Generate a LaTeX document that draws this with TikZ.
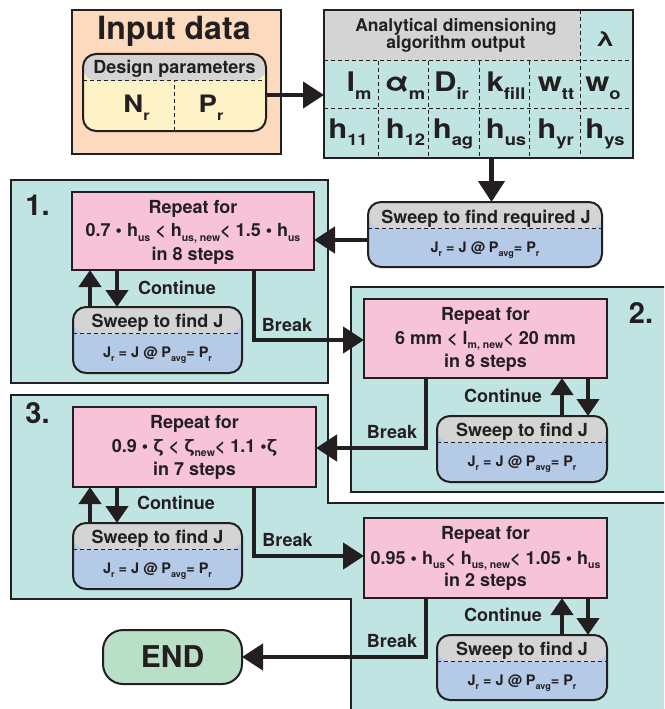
\documentclass[tikz,border=0pt]{standalone}
\usepackage{fontspec}
\setmainfont{texgyreheros-regular.otf}[BoldFont=texgyreheros-bold.otf]
\newfontfamily\widefont{texgyreheros-bold.otf}[FakeStretch=1.15]
\newfontfamily\halfwide{texgyreheros-bold.otf}[FakeStretch=1.15]
\usetikzlibrary{arrows.meta}
\definecolor{ink}{HTML}{231F20}
\definecolor{panelc}{HTML}{C0E4E2}
\definecolor{pinkc}{HTML}{F6C3D9}
\definecolor{hdrc}{HTML}{D4D4D4}
\definecolor{bluec}{HTML}{B4CAE6}
\definecolor{peachc}{HTML}{FBDABD}
\definecolor{yellowc}{HTML}{FDF2C6}
\definecolor{greenc}{HTML}{B9DFC7}
\newcommand\myfs[1]{\fontsize{#1}{#1}\selectfont}
\newcommand\rsub[1]{\raisebox{-4.5pt}{\myfs{10.5}#1}}
\newcommand\fsub[1]{\raisebox{-4.5pt}{\myfs{9}#1}}
\newcommand\tsub[1]{\raisebox{-7pt}{\myfs{16}#1}}
\newcommand\nsub[1]{\raisebox{-8pt}{\myfs{14}#1}}
\newcommand\Jform{J\fsub{r} = J @ P\fsub{avg}= P\fsub{r}}
\tikzset{
  every node/.style={inner sep=0pt, outer sep=0pt, text=ink},
  panel/.style={draw=ink, line width=2pt, fill=panelc},
  repbox/.style={draw=ink, line width=2pt, fill=pinkc, minimum width=243pt, minimum height=79pt},
  dsh/.style={draw=ink, line width=1pt, dash pattern=on 4pt off 3pt},
  hdrbox/.style={rounded corners=13pt, fill=#1,
    path picture={
      \fill[hdrc] (path picture bounding box.north west) rectangle ([yshift=-26.5pt]path picture bounding box.north east);
      \draw[dsh] ([yshift=-26.5pt]path picture bounding box.north west) -- ([yshift=-26.5pt]path picture bounding box.north east);
    },
    postaction={draw=ink, line width=2pt}},
  sweepbox/.style={hdrbox=bluec, minimum width=170pt, minimum height=66pt},
  flow/.style={draw=ink, line width=4.5pt, -{Triangle[length=21pt,width=26pt]}},
  flowsm/.style={draw=ink, line width=4.5pt, -{Triangle[length=17pt,width=22pt]}},
  lbl/.style={anchor=base, font=\bfseries\myfs{18}},
  sweeph/.style={anchor=base, font=\bfseries\myfs{18}},
  sweepf/.style={anchor=base, font=\bfseries\myfs{14.5}},
  numlbl/.style={anchor=base, font=\bfseries\myfs{29}},
  cell/.style={anchor=base, font=\widefont\myfs{27}},
}
\begin{document}
\begin{tikzpicture}[x=1pt,y=-1pt]
\clip (0,0) rectangle (664,709);
\fill[white] (0,0) rectangle (664,709);

% ---------- input data ----------
\node[draw=ink, line width=2pt, fill=peachc, minimum width=209pt, minimum height=144pt] (inp) at (176.5,82) {};
\node[anchor=base, font=\bfseries\myfs{32}] (tin) at (174,39.5) {Input data};
\node[hdrbox=yellowc, minimum width=183pt, minimum height=77pt] (dp) at (174.5,92.5) {};
\draw[dsh] (dp.south) -- ([yshift=-27pt]dp.north);
\node[lbl] (tdp) at (174.5,74) {Design parameters};
\node[anchor=base, font=\halfwide\myfs{24}] (tnr) at (136.5,112.5) {N\nsub{r}};
\node[anchor=base, font=\halfwide\myfs{24}] (tpr) at (211,112.5) {P\nsub{r}};

% ---------- output table ----------
\node[draw=ink, line width=2.5pt, fill=panelc, minimum width=309pt, minimum height=148pt] (tbl) at (478.5,84) {};
\fill[hdrc] (tbl.north west) rectangle (580,61);
\draw[dsh] (tbl.west |- 0,61) -- (tbl.east |- 0,61);
\draw[dsh] (tbl.west |- 0,108) -- (tbl.east |- 0,108);
\draw[dsh] (tbl.north -| 580,0) -- (tbl.south -| 580,0);
\foreach \xx in {378,428,479,529} \draw[dsh] (\xx,61) -- (tbl.south -| \xx,0);
\draw[ink, line width=2.5pt] (tbl.north west) rectangle (tbl.south east);
\node[anchor=base, font=\bfseries\myfs{17.5}] (th1) at (456,32) {Analytical dimensioning};
\node[anchor=base, font=\bfseries\myfs{17.5}] (th2) at (456,48.5) {algorithm output};
\node[anchor=base, font=\widefont\myfs{21}] (tlam) at (605,46.5) {λ};
\node[cell] (c11) at (359,92) {l\tsub{m}};
\node[cell] (c12) at (405,92) {α\tsub{m}};
\node[cell] (c13) at (451.5,92) {D\tsub{ir}};
\node[cell] (c14) at (506,92) {k\tsub{fill}};
\node[cell] (c15) at (556,92) {w\tsub{tt}};
\node[cell] (c16) at (603,92) {w\tsub{o}};
\node[cell] (c21) at (348,138) {h\tsub{11}};
\node[cell] (c22) at (405.5,138) {h\tsub{12}};
\node[cell] (c23) at (453,138) {h\tsub{ag}};
\node[cell] (c24) at (506,138) {h\tsub{us}};
\node[cell] (c25) at (555.5,138) {h\tsub{yr}};
\node[cell] (c26) at (605,138) {h\tsub{ys}};

% ---------- sweep required ----------
\node[sweepbox, minimum width=234pt, minimum height=65pt] (s0) at (485,234.5) {};
\node[sweeph] (s0h) at (486,223) {Sweep to find required J};
\node[sweepf] (s0f) at (485,252) {\Jform};

% ---------- panels ----------
\node[panel, minimum width=317pt, minimum height=203pt] (p1) at (169.5,281.5) {};
\node[panel, minimum width=349pt, minimum height=205pt] (p2) at (525.5,389.5) {};
\draw[panel] (11,395) -- (328,395) -- (328,503) -- (690,503) -- (690,725) -- (351,725) -- (351,599) -- (11,599) -- cycle;

\node[numlbl] (n1) at (37.5,215) {1.};
\node[numlbl] (n2) at (641,323) {2.};
\node[numlbl] (n3) at (37.5,423) {3.};

% ---------- stage 1 ----------
\node[repbox, minimum width=242pt, minimum height=78pt] (r1) at (193,231) {};
\node[lbl] (r1a) at (193,213) {Repeat for};
\node[lbl] (r1b) at (193,236.5) {0.7 • h\rsub{us} < h\rsub{us, new}< 1.5 • h\rsub{us}};
\node[lbl] (r1c) at (193,260) {in 8 steps};
\node[sweepbox, minimum width=169pt] (s1) at (157.5,340) {};
\node[sweeph] (s1h) at (157.5,327.5) {Sweep to find J};
\node[sweepf] (s1f) at (157.5,357) {\Jform};

% ---------- stage 2 ----------
\node[repbox] (r2) at (485.5,338.5) {};
\node[lbl] (r2a) at (485.5,320) {Repeat for};
\node[lbl] (r2b) at (485.5,344) {6 mm < l\rsub{m, new}< 20 mm};
\node[lbl] (r2c) at (485.5,367) {in 8 steps};
\node[sweepbox] (s2) at (522,449) {};
\node[sweeph] (s2h) at (522,436.5) {Sweep to find J};
\node[sweepf] (s2f) at (522,466) {\Jform};

% ---------- stage 3 ----------
\node[repbox, minimum height=80pt] (r3) at (194.5,447) {};
\node[lbl] (r3a) at (194.5,428) {Repeat for};
\node[lbl] (r3b) at (194.5,452) {0.9 • ζ < ζ\rsub{new}< 1.1 •ζ};
\node[lbl] (r3c) at (194.5,475.5) {in 7 steps};
\node[sweepbox, minimum width=169pt] (s3) at (157.5,556) {};
\node[sweeph] (s3h) at (157.5,543.5) {Sweep to find J};
\node[sweepf] (s3f) at (157.5,573) {\Jform};

% ---------- stage 4 ----------
\node[repbox, minimum height=80pt] (r4) at (485.5,558) {};
\node[lbl] (r4a) at (485.5,539) {Repeat for};
\node[lbl] (r4b) at (485.5,564) {0.95 • h\rsub{us}< h\rsub{us, new}< 1.05 • h\rsub{us}};
\node[lbl] (r4c) at (485.5,586) {in 2 steps};
\node[sweepbox, minimum height=65pt] (s4) at (522,667.5) {};
\node[sweeph] (s4h) at (522,655.5) {Sweep to find J};
\node[sweepf] (s4f) at (522,685) {\Jform};

% ---------- end ----------
\node[draw=ink, line width=2pt, fill=greenc, rounded corners=20pt, minimum width=139pt, minimum height=54pt, font=\bfseries\myfs{30}] (end) at (172.5,657) {END};

% ---------- connectors ----------
\draw[flow] (dp.east |- 0,95) -- (tbl.west |- 0,95);
\draw[flow] (tbl.south -| 491.5,0) -- (s0.north -| 491.5,0);
\draw[flow] (s0.west |- 0,240) -- (r1.east |- 0,240);

\draw[flowsm] (s1.north -| 90,0) -- (r1.south -| 90,0);
\draw[flowsm] (r1.south -| 117,0) -- (s1.north -| 117,0);
\draw[flow] (r1.south -| 254,0) |- (r2.west |- 0,340);

\draw[flowsm] (s2.north -| 562,0) -- (r2.south -| 562,0);
\draw[flowsm] (r2.south -| 588,0) -- (s2.north -| 588,0);
\draw[flow] (r2.south -| 426,0) |- (r3.east |- 0,448);

\draw[flowsm] (s3.north -| 90,0) -- (r3.south -| 90,0);
\draw[flowsm] (r3.south -| 117,0) -- (s3.north -| 117,0);
\draw[flow] (r3.south -| 254,0) |- (r4.west |- 0,556);

\draw[flowsm] (s4.north -| 562,0) -- (r4.south -| 562,0);
\draw[flowsm] (r4.south -| 588,0) -- (s4.north -| 588,0);
\draw[flow] (r4.south -| 426,0) |- (end.east |- 0,657);

% ---------- connector labels ----------
\node[lbl] (k1) at (177,294) {Continue};
\node[lbl] (b1) at (287,331) {Break};
\node[lbl] (k2) at (503,402) {Continue};
\node[lbl] (b2) at (392,438) {Break};
\node[lbl] (k3) at (176,509) {Continue};
\node[lbl] (b3) at (287.5,546) {Break};
\node[lbl] (k4) at (503,621) {Continue};
\node[lbl] (b4) at (392,647) {Break};
\end{tikzpicture}
\end{document}
